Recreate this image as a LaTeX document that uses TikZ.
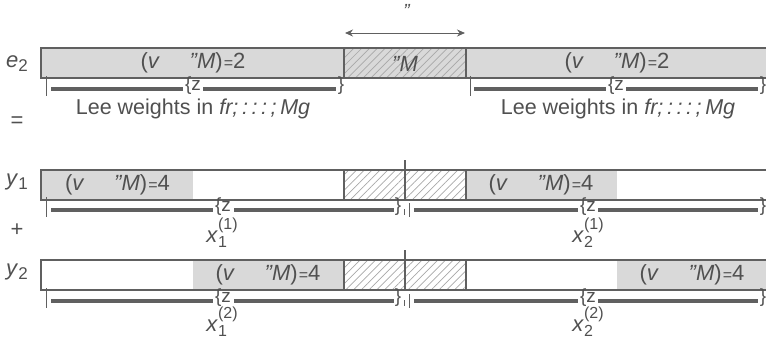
\documentclass[tikz,border=0pt]{standalone}
\usepackage{fontspec}
\setmainfont{Liberation Sans}
\usetikzlibrary{patterns.meta,arrows.meta}
\definecolor{lin}{HTML}{606060}
\definecolor{txt}{HTML}{505050}
\definecolor{fil}{HTML}{D9D9D9}
\definecolor{hat}{HTML}{A8A8A8}
\newcommand{\barlbl}[1]{(\textit{v}\hspace{1.45em}\textit{\kern-0.1em''M})\kern0.05em{\fontsize{16}{16}\selectfont=}#1}
\newcommand{\xlbl}[2]{\textit{x}\rlap{\raisebox{-0.5ex}{\fontsize{16}{16}\selectfont #1}}\raisebox{1.05ex}{\fontsize{16}{16}\selectfont(#2)}}
\begin{document}
\begin{tikzpicture}[x=1pt,y=-1pt,
  lbl/.style={text=txt,font=\fontsize{22}{24}\selectfont,inner sep=0pt,anchor=base},
  lee/.style={text=txt,font=\fontsize{21.5}{24}\selectfont,inner sep=0pt,anchor=base},
  sml/.style={text=txt,font=\fontsize{19}{20}\selectfont,inner sep=0pt},
  graybox/.style={fill=fil,draw=none},
  hatchbox/.style={pattern={Lines[angle=45,distance=5.5pt,line width=0.7pt]},pattern color=hat,draw=lin,line width=1.4pt},
  frame/.style={draw=lin,line width=2.8pt},
  braceline/.style={draw=lin,line width=3.2pt},
  tick/.style={draw=lin,line width=1pt},
  divider/.style={draw=lin,line width=1.8pt}]
\useasboundingbox (0,0) rectangle (766,340);

% ---------- row e2 ----------
\path[graybox] (41,48) rectangle (766,78);
\path[hatchbox] (344,48) rectangle (466,78);
\draw[frame] (766,48) -- (41,48) -- (41,78) -- (766,78);
\node[lbl] (e2) at (17,67) {\textit{e}\raisebox{-0.4ex}{\fontsize{17}{17}\selectfont 2}};
\node[lbl] (e2a) at (193,68.5) {\barlbl{2}};
\node[lbl] (e2m) at (405,71) {\textit{''M}};
\node[lbl] (e2b) at (617,68.5) {\barlbl{2}};
% arrow
\coordinate (arL) at (345,33);
\coordinate (arR) at (465,33);
\draw[lin,line width=1pt,{Stealth[length=8pt,width=7pt]}-{Stealth[length=8pt,width=7pt]}] (arL) -- (arR);
\node[sml] (eps) at (407,11) {\textit{''}};
% braces
\draw[tick] (46,76) -- (46,96);
\draw[braceline] (51,89) -- (183,89);
\node[sml] (bz1) at (193,86) {\{z};
\draw[braceline] (203,89) -- (336,89);
\node[sml] (bc1) at (341,86) {\}};
\draw[tick] (470,76) -- (470,96);
\draw[braceline] (474,89) -- (606,89);
\node[sml] (bz2) at (616,86) {\{z};
\draw[braceline] (626,89) -- (758,89);
\node[sml] (bc2) at (763,86) {\}};
\node[lee] (lee1) at (193,114) {Lee weights in \textit{fr;\,:\,:\,:\,;\,Mg}};
\node[lee] (lee2) at (618,114) {Lee weights in \textit{fr;\,:\,:\,:\,;\,Mg}};
\node[lbl,anchor=center] (eq) at (17,122) {=};

% ---------- row y1 ----------
\path[graybox] (41,170) rectangle (193,200);
\path[graybox] (466,170) rectangle (617,200);
\path[hatchbox] (344,170) rectangle (466,200);
\draw[frame] (766,170) -- (41,170) -- (41,200) -- (766,200);
\draw[divider] (405,160) -- (405,200);
\node[lbl] (y1) at (17,185) {\textit{y}\raisebox{-0.4ex}{\fontsize{17}{17}\selectfont 1}};
\node[lbl] (y1a) at (117.5,190) {\barlbl{4}};
\node[lbl] (y1b) at (541,190) {\barlbl{4}};
\draw[tick] (46,197) -- (46,217);
\draw[braceline] (51,210) -- (213,210);
\node[sml] (bz3) at (223,207) {\{z};
\draw[braceline] (234,210) -- (394,210);
\node[sml] (bc3) at (398,207) {\}};
\draw[tick] (404,209) -- (404,215);
\draw[tick] (409,203) -- (409,217);
\draw[braceline] (414,210) -- (578,210);
\node[sml] (bz4) at (588,207) {\{z};
\draw[braceline] (598,210) -- (758,210);
\node[sml] (bc4) at (763,207) {\}};
\node[lbl] (x11) at (222,242) {\xlbl{1}{1}};
\node[lbl] (x21) at (588,242) {\xlbl{2}{1}};
\node[lbl,anchor=center] (plus) at (17,230) {+};

% ---------- row y2 ----------
\path[graybox] (193,260) rectangle (344,290);
\path[graybox] (617,260) rectangle (766,290);
\path[hatchbox] (344,260) rectangle (466,290);
\draw[frame] (766,260) -- (41,260) -- (41,290) -- (766,290);
\draw[divider] (405,250) -- (405,290);
\node[lbl] (y2) at (17,275) {\textit{y}\raisebox{-0.4ex}{\fontsize{17}{17}\selectfont 2}};
\node[lbl] (y2a) at (268,280.5) {\barlbl{4}};
\node[lbl] (y2b) at (692,280.5) {\barlbl{4}};
\draw[tick] (46,288) -- (46,308);
\draw[braceline] (51,301) -- (213,301);
\node[sml] (bz5) at (223,298) {\{z};
\draw[braceline] (234,301) -- (394,301);
\node[sml] (bc5) at (398,298) {\}};
\draw[tick] (404,300) -- (404,306);
\draw[tick] (409,294) -- (409,308);
\draw[braceline] (414,301) -- (578,301);
\node[sml] (bz6) at (588,298) {\{z};
\draw[braceline] (598,301) -- (758,301);
\node[sml] (bc6) at (763,298) {\}};
\node[lbl] (x12) at (222,331) {\xlbl{1}{2}};
\node[lbl] (x22) at (588,331) {\xlbl{2}{2}};
\end{tikzpicture}
\end{document}
